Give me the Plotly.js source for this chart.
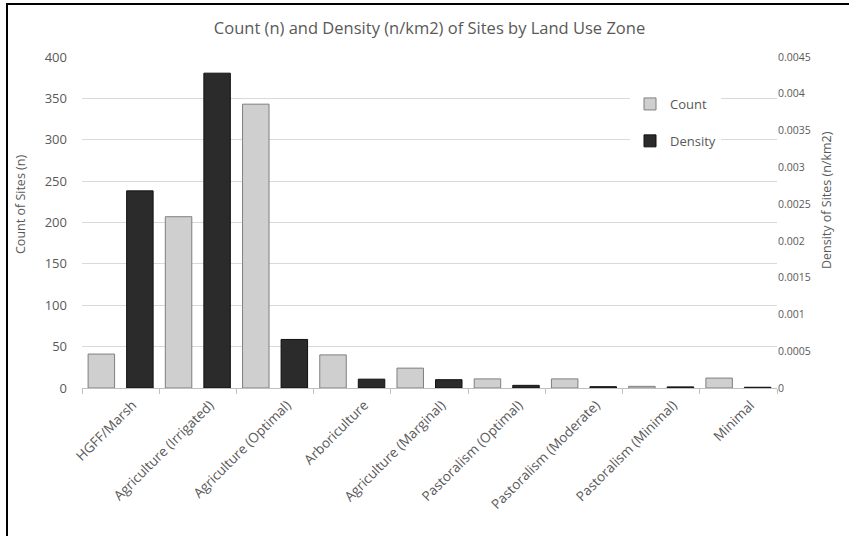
<!DOCTYPE html>
<html>
<head>
<meta charset="utf-8">
<script src="https://cdn.plot.ly/plotly-3.0.1.min.js"></script>
<style>
  html, body { margin: 0; padding: 0; background: #fff; }
  #wrap { position: relative; width: 849px; height: 536px; }
  #chart { width: 849px; height: 536px; }
  #frame { position: absolute; left: 6px; top: 3px; right: -4px; bottom: -4px;
           border-left: 2px solid #000; border-top: 2px solid #000; pointer-events: none; }
</style>
</head>
<body>
<div id="wrap">
  <div id="chart"></div>
  <div id="frame"></div>
</div>
<script>
// Land use zones and site statistics
const zones = [
  'HGFF/Marsh',
  'Agriculture (Irrigated)',
  'Agriculture (Optimal)',
  'Arboriculture',
  'Agriculture (Marginal)',
  'Pastoralism (Optimal)',
  'Pastoralism (Moderate)',
  'Pastoralism (Minimal)',
  'Minimal'
];
const siteCount = [41, 207, 343, 40, 24, 11, 11, 2, 12];
const siteDensity = [0.00268, 0.00428, 0.00066, 0.00012, 0.000113, 0.000036, 0.000018, 0.000015, 0.00001];

const textGrey = '#595959';
const baseFont = 'Open Sans, Lato, sans-serif';

const margin = { l: 82, r: 72, t: 57, b: 148 };
const plotW = 849 - margin.l - margin.r;
const plotH = 536 - margin.t - margin.b;
const px2x = px => (px - margin.l) / plotW;
const px2y = py => (536 - margin.b - py) / plotH;

const countTrace = {
  type: 'bar',
  name: 'Count',
  x: zones,
  y: siteCount,
  yaxis: 'y',
  legendgroup: 'count',
  width: 0.343,
  offset: -0.421,
  marker: { color: '#cfcfcf', line: { color: '#7f7f7f', width: 1 } },
  hoverinfo: 'x+y'
};

const densityTrace = {
  type: 'bar',
  name: 'Density',
  x: zones,
  y: siteDensity,
  yaxis: 'y2',
  legendgroup: 'density',
  width: 0.343,
  offset: 0.078,
  marker: { color: '#2b2b2b', line: { color: '#111111', width: 1 } },
  hoverinfo: 'x+y'
};

const layout = {
  width: 849,
  height: 536,
  margin: margin,
  paper_bgcolor: '#ffffff',
  plot_bgcolor: '#ffffff',
  font: { family: baseFont, color: textGrey, size: 12 },
  title: {
    text: 'Count (n) and Density (n/km2) of Sites by Land Use Zone',
    font: { family: baseFont, size: 16.5, color: textGrey },
    x: 0.5, xref: 'paper', xanchor: 'center',
    y: 1 - 28 / 536, yref: 'container', yanchor: 'middle'
  },
  barmode: 'overlay',
  showlegend: true,
  legend: {
    x: px2x(630), y: px2y(89), xanchor: 'left', yanchor: 'top',
    bgcolor: '#ffffff',
    font: { family: baseFont, size: 13, color: textGrey },
    tracegroupgap: 17,
    itemwidth: 30
  },
  xaxis: {
    type: 'category',
    tickson: 'boundaries',
    ticks: 'outside',
    ticklen: 5,
    tickcolor: '#bfbfbf',
    showline: true,
    linecolor: '#bfbfbf',
    linewidth: 1,
    showgrid: false,
    tickangle: -45,
    ticklabelshift: 12,
    ticklabelstandoff: 3,
    tickfont: { family: baseFont, size: 13.5, color: textGrey },
    fixedrange: true
  },
  yaxis: {
    range: [0, 400],
    dtick: 50,
    showgrid: true,
    gridcolor: '#d9d9d9',
    gridwidth: 1,
    zeroline: false,
    showline: false,
    ticks: '',
    ticklabelstandoff: 14,
    tickfont: { family: baseFont, size: 13, color: textGrey }
  },
  yaxis2: {
    overlaying: 'y',
    side: 'right',
    range: [0, 0.0045],
    dtick: 0.0005,
    tickformat: '~g',
    showgrid: false,
    zeroline: false,
    showline: false,
    ticks: '',
    ticklabelstandoff: 0,
    tickfont: { family: baseFont, size: 10.5, color: textGrey }
  },
  annotations: [
    {
      text: 'Count of Sites (n)',
      xref: 'paper', yref: 'paper',
      x: px2x(20), y: px2y(205),
      xanchor: 'center', yanchor: 'middle',
      textangle: -90, showarrow: false,
      font: { family: baseFont, size: 12.5, color: textGrey }
    },
    {
      text: 'Density of Sites (n/km2)',
      xref: 'paper', yref: 'paper',
      x: px2x(827), y: px2y(200),
      xanchor: 'center', yanchor: 'middle',
      textangle: -90, showarrow: false,
      font: { family: baseFont, size: 12.5, color: textGrey }
    }
  ]
};

Plotly.newPlot('chart', [countTrace, densityTrace], layout, { displayModeBar: false, staticPlot: true });
</script>
</body>
</html>
